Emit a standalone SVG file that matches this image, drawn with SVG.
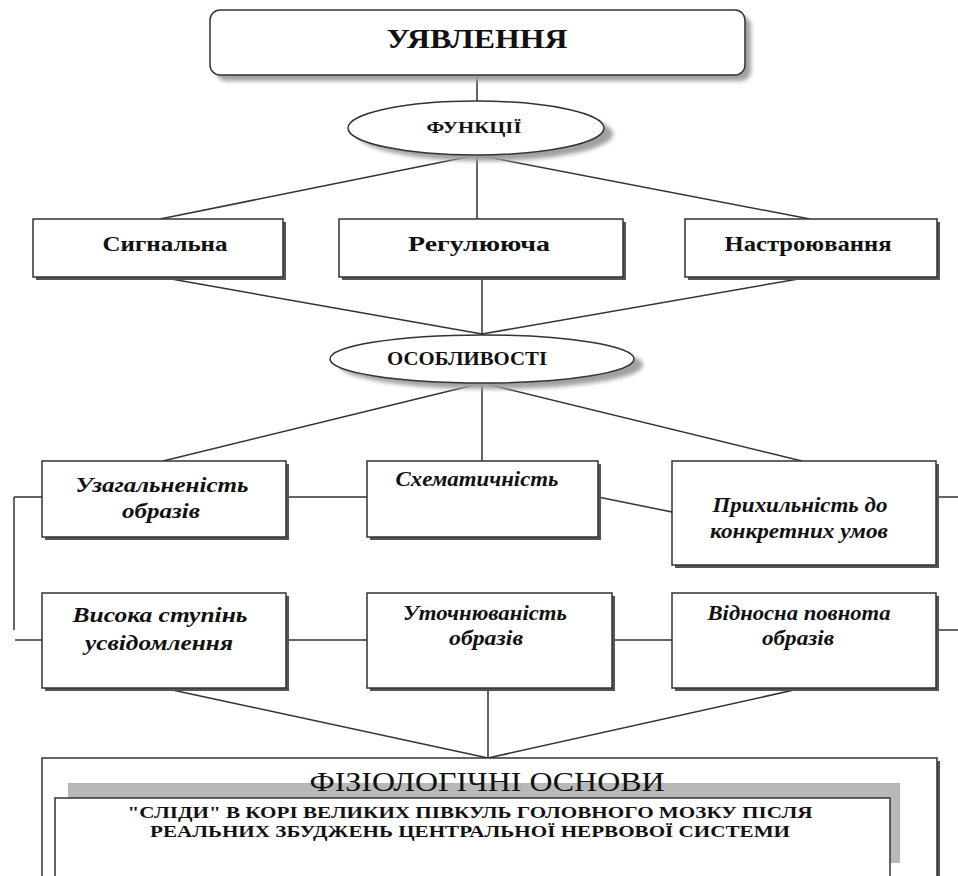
<svg xmlns="http://www.w3.org/2000/svg" width="958" height="876" viewBox="0 0 958 876">
<style>
.box{fill:#fff;stroke:#333;stroke-width:1.5}
.sh{fill:#555}
.ssoft{fill:#a0a0a0}
.c{stroke:#333;stroke-width:1.5;fill:none}
</style>
<defs>
<filter id="blur" x="-10%" y="-20%" width="120%" height="140%"><feGaussianBlur stdDeviation="2"/></filter>
</defs>
<g id="connectors">
<path class="c" d="M477 75V101"/>
<path class="c" d="M477 155L160 219M477 155V219M477 155L810 219"/>
<path class="c" d="M160 277L482 334M482 277V335M810 277L482 334"/>
<path class="c" d="M482 383L163 461M482 383V461M482 383L802 461"/>
<path class="c" d="M286 497H367M598 497L672 512M939 497H958"/>
<path class="c" d="M14 497H42M14 497V630M15 640H42"/>
<path class="c" d="M286 640H367M612 640H672M939 630H958"/>
<path class="c" d="M163 688L488 758M488 688V758M803 688L488 758"/>
</g>
<g font-family="Liberation Serif" text-anchor="middle" fill="#111">
<g id="uyavlennya">
<rect class="ssoft" x="216" y="16" width="535" height="65" rx="10" filter="url(#blur)"/>
<rect class="box" x="210" y="10" width="535" height="65" rx="10"/>
<text font-family="Liberation Serif" font-weight="bold" x="477" y="48" font-size="28" textLength="181" lengthAdjust="spacingAndGlyphs">УЯВЛЕННЯ</text>
</g>
<g id="funktsii">
<ellipse class="ssoft" cx="485" cy="134" rx="128" ry="27" filter="url(#blur)"/>
<ellipse class="box" cx="476" cy="128" rx="128" ry="27"/>
<text font-family="Liberation Serif" font-weight="bold" x="474" y="133" font-size="17" textLength="95" lengthAdjust="spacingAndGlyphs">ФУНКЦІЇ</text>
</g>
<g id="syhnalna">
<rect class="sh" x="36" y="222" width="250" height="58"/>
<rect class="box" x="33" y="219" width="250" height="58"/>
<text font-family="Liberation Serif" font-weight="bold" x="165" y="251" font-size="22" textLength="125" lengthAdjust="spacingAndGlyphs">Сигнальна</text>
</g>
<g id="rehuliuiucha">
<rect class="sh" x="342" y="222" width="284" height="58"/>
<rect class="box" x="339" y="219" width="284" height="58"/>
<text font-family="Liberation Serif" font-weight="bold" x="479" y="251" font-size="22" textLength="142" lengthAdjust="spacingAndGlyphs">Регулююча</text>
</g>
<g id="nastroiuvannia">
<rect class="sh" x="688" y="222" width="252" height="58"/>
<rect class="box" x="685" y="219" width="252" height="58"/>
<text font-family="Liberation Serif" font-weight="bold" x="808" y="251" font-size="22" textLength="167" lengthAdjust="spacingAndGlyphs">Настроювання</text>
</g>
<g id="osoblyvosti">
<ellipse class="ssoft" cx="491" cy="365" rx="152" ry="24" filter="url(#blur)"/>
<ellipse class="box" cx="482" cy="359" rx="152" ry="24"/>
<text font-family="Liberation Serif" font-weight="bold" x="467" y="365" font-size="18" textLength="160" lengthAdjust="spacingAndGlyphs">ОСОБЛИВОСТІ</text>
</g>
<g id="uzahalnenist">
<rect class="sh" x="45" y="464" width="244" height="76"/>
<rect class="box" x="42" y="461" width="244" height="76"/>
<text font-family="Liberation Serif" font-weight="bold" font-style="italic" x="162" y="492" font-size="21" textLength="173" lengthAdjust="spacingAndGlyphs">Узагальненість</text>
<text font-family="Liberation Serif" font-weight="bold" font-style="italic" x="161" y="518" font-size="21" textLength="78" lengthAdjust="spacingAndGlyphs">образів</text>
</g>
<g id="skhematychnist">
<rect class="sh" x="370" y="464" width="231" height="76"/>
<rect class="box" x="367" y="461" width="231" height="76"/>
<text font-family="Liberation Serif" font-weight="bold" font-style="italic" x="477" y="486" font-size="21" textLength="163" lengthAdjust="spacingAndGlyphs">Схематичність</text>
</g>
<g id="prykhylnist">
<rect class="sh" x="675" y="464" width="264" height="104"/>
<rect class="box" x="672" y="461" width="264" height="104"/>
<text font-family="Liberation Serif" font-weight="bold" font-style="italic" x="800" y="512" font-size="21" textLength="175" lengthAdjust="spacingAndGlyphs">Прихильність до</text>
<text font-family="Liberation Serif" font-weight="bold" font-style="italic" x="799" y="538" font-size="21" textLength="178" lengthAdjust="spacingAndGlyphs">конкретних умов</text>
</g>
<g id="vysoka">
<rect class="sh" x="45" y="596" width="244" height="95"/>
<rect class="box" x="42" y="593" width="244" height="95"/>
<text font-family="Liberation Serif" font-weight="bold" font-style="italic" x="160" y="622" font-size="21" textLength="175" lengthAdjust="spacingAndGlyphs">Висока ступінь</text>
<text font-family="Liberation Serif" font-weight="bold" font-style="italic" x="159" y="650" font-size="21" textLength="148" lengthAdjust="spacingAndGlyphs">усвідомлення</text>
</g>
<g id="utochniuvanist">
<rect class="sh" x="370" y="596" width="245" height="95"/>
<rect class="box" x="367" y="593" width="245" height="95"/>
<text font-family="Liberation Serif" font-weight="bold" font-style="italic" x="485" y="620" font-size="21" textLength="164" lengthAdjust="spacingAndGlyphs">Уточнюваність</text>
<text font-family="Liberation Serif" font-weight="bold" font-style="italic" x="486" y="645" font-size="21" textLength="74" lengthAdjust="spacingAndGlyphs">образів</text>
</g>
<g id="vidnosna">
<rect class="sh" x="675" y="596" width="264" height="95"/>
<rect class="box" x="672" y="593" width="264" height="95"/>
<text font-family="Liberation Serif" font-weight="bold" font-style="italic" x="799" y="620" font-size="21" textLength="183" lengthAdjust="spacingAndGlyphs">Відносна повнота</text>
<text font-family="Liberation Serif" font-weight="bold" font-style="italic" x="798" y="645" font-size="21" textLength="72" lengthAdjust="spacingAndGlyphs">образів</text>
</g>
<g id="fiziolohichni">
<rect class="sh" x="45" y="761" width="895" height="130"/>
<rect class="box" x="42" y="758" width="895" height="130"/>
<rect x="68" y="783" width="832" height="80" fill="#b8b8b8"/>
<rect class="box" x="55" y="798" width="835" height="90"/>
<text font-family="Liberation Serif" x="487" y="791" font-size="28" textLength="355" lengthAdjust="spacingAndGlyphs">ФІЗІОЛОГІЧНІ ОСНОВИ</text>
<text font-family="Liberation Serif" font-weight="bold" x="470" y="818" font-size="17" textLength="685" lengthAdjust="spacingAndGlyphs">"СЛІДИ" В КОРІ ВЕЛИКИХ ПІВКУЛЬ ГОЛОВНОГО МОЗКУ ПІСЛЯ</text>
<text font-family="Liberation Serif" font-weight="bold" x="470" y="837" font-size="17" textLength="640" lengthAdjust="spacingAndGlyphs">РЕАЛЬНИХ ЗБУДЖЕНЬ ЦЕНТРАЛЬНОЇ НЕРВОВОЇ СИСТЕМИ</text>
</g>
</g>
</svg>
